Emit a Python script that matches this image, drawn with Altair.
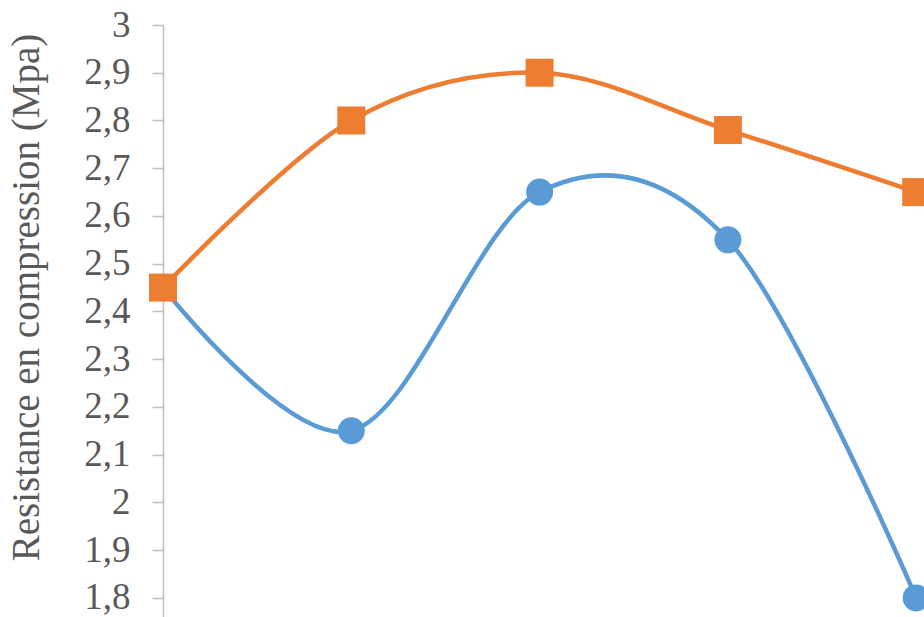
import altair as alt
import pandas as pd

# Sample positions along the horizontal axis
echantillon = [0, 1, 2, 3, 4]

# Compressive strength (MPa) for the two series
serie_bleue = [2.45, 2.15, 2.65, 2.55, 1.80]
serie_orange = [2.45, 2.80, 2.90, 2.78, 2.65]

y_ticks = [1.8, 1.9, 2.0, 2.1, 2.2, 2.3, 2.4, 2.5, 2.6, 2.7, 2.8, 2.9, 3.0]

BLUE = "#5B9BD5"
ORANGE = "#ED7D31"
GREY_TEXT = "#595959"
GREY_AXIS = "#BFBFBF"

df_b = pd.DataFrame({"x": echantillon, "y": serie_bleue})
df_o = pd.DataFrame({"x": echantillon, "y": serie_orange})

x_scale = alt.Scale(domain=[0, 4.0414], nice=False, zero=False)
y_scale = alt.Scale(domain=[1.76, 3.0], nice=False, zero=False)

x_enc = alt.X("x:Q", scale=x_scale, axis=None)
y_axis = alt.Axis(
    values=y_ticks,
    labelExpr="replace(format(datum.value, '.2~f'), '.', ',')",
    labelFont="Liberation Serif",
    labelFontSize=37,
    labelColor=GREY_TEXT,
    labelPadding=22,
    tickSize=11,
    tickColor=GREY_AXIS,
    tickWidth=1.5,
    domainColor=GREY_AXIS,
    domainWidth=1.5,
    grid=False,
    title="Resistance en compression (Mpa)",
    titleFont="Liberation Serif",
    titleFontSize=39,
    titleFontWeight="normal",
    titleColor=GREY_TEXT,
    titleAngle=270,
    titleBaseline="alphabetic",
    titleAlign="center",
    titleX=-125,
    titleY=272,
)
y_enc = alt.Y("y:Q", scale=y_scale, axis=y_axis)

line_b = alt.Chart(df_b).mark_line(
    color=BLUE, strokeWidth=4.5, interpolate="cardinal"
).encode(x=x_enc, y=y_enc)
pts_b = alt.Chart(df_b).mark_point(
    shape="circle", filled=True, color=BLUE, opacity=1, size=729
).encode(x=x_enc, y=y_enc)

line_o = alt.Chart(df_o).mark_line(
    color=ORANGE, strokeWidth=4.5, interpolate="cardinal"
).encode(x=x_enc, y=y_enc)
pts_o = alt.Chart(df_o).mark_point(
    shape="square", filled=True, color=ORANGE, opacity=1, size=784
).encode(x=x_enc, y=y_enc)

chart = (
    alt.layer(line_b, pts_b, line_o, pts_o)
    .properties(
        width=761,
        height=592,
        autosize=alt.AutoSizeParams(type="none"),
        padding={"left": 163, "top": 25, "right": 0, "bottom": 0},
        background="white",
    )
    .configure_view(strokeWidth=0)
)

chart.save("out.html", embed_options={"renderer": "svg", "actions": False})
